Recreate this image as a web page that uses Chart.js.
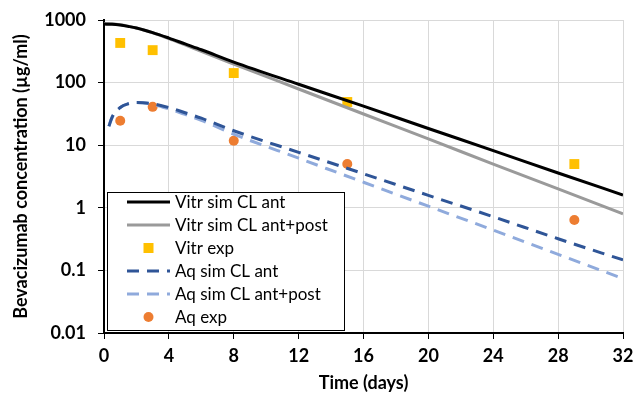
<!DOCTYPE html>
<html>
<head>
<meta charset="utf-8">
<script src="https://cdn.jsdelivr.net/npm/chart.js@4"></script>
<style>
  html, body { margin: 0; padding: 0; background: #fff; }
</style>
</head>
<body>
<canvas id="concChart" width="635" height="396"></canvas>
<script>
// simulated curves (days, ug/ml)
const vitrDays = [0, 0.5, 1, 1.5, 2, 3, 4, 5, 6, 8, 12, 16, 20, 24, 28, 32];
const vitrAnt = [860, 855, 830, 790, 745, 630, 515, 415, 335, 213, 94, 42, 18.5, 8.2, 3.6, 1.6];
const vitrAntPost = [880, 870, 840, 795, 745, 625, 505, 400, 315, 198, 79, 31.5, 12.6, 5.0, 2.0, 0.8];

const aqDays = [0.3, 0.5, 1, 1.5, 2, 3, 4, 5, 6, 8, 12, 16, 20, 24, 28, 32];
const aqAnt = [20, 28, 40, 46, 48, 46, 40, 33, 27, 17, 7.7, 3.5, 1.58, 0.72, 0.32, 0.147];
const aqAntPost = [20, 28, 40, 46, 48, 45, 38, 31, 25, 15, 6.2, 2.56, 1.06, 0.44, 0.18, 0.074];

// experimental points
const expDays = [1, 3, 8, 15, 29];
const vitrExp = [430, 330, 142, 49, 5.0];
const aqExp = [24.5, 41, 11.8, 5.0, 0.64];

const xTicks = [0, 4, 8, 12, 16, 20, 24, 28, 32];
const yTicks = [0.01, 0.1, 1, 10, 100, 1000];

function pts(xs, ys) {
    return xs.map((x, i) => ({ x: x, y: ys[i] }));
}

const boxLegend = {
    id: 'boxLegend',
    afterDatasetsDraw(chart) {
        const ctx = chart.ctx;
        const area = chart.chartArea;
        const left = area.left + 3;
        const bottom = area.bottom - 3;
        const w = 237, h = 138;
        const top = bottom - h;
        ctx.save();
        ctx.fillStyle = '#ffffff';
        ctx.fillRect(left, top, w, h);
        ctx.strokeStyle = '#000000';
        ctx.lineWidth = 1;
        ctx.strokeRect(left + 0.5, top + 0.5, w, h);
        ctx.font = '17px Lato';
        ctx.textBaseline = 'middle';
        chart.data.datasets.forEach((ds, i) => {
            const y = top + 10 + i * 23;
            const x0 = left + 20, x1 = left + 63;
            if (ds.showLine === false) {
                const cx = (x0 + x1) / 2;
                ctx.fillStyle = ds.backgroundColor;
                if (ds.pointStyle === 'rect') {
                    ctx.fillRect(cx - 5, y - 5, 10, 10);
                } else {
                    ctx.beginPath();
                    ctx.arc(cx, y, 5, 0, Math.PI * 2);
                    ctx.fill();
                }
            } else {
                ctx.strokeStyle = ds.borderColor;
                ctx.lineWidth = ds.borderWidth;
                ctx.setLineDash(ds.borderDash || []);
                ctx.beginPath();
                ctx.moveTo(x0, y);
                ctx.lineTo(x1, y);
                ctx.stroke();
                ctx.setLineDash([]);
            }
            ctx.fillStyle = '#000000';
            ctx.fillText(ds.label, left + 68, y + 1);
        });
        ctx.restore();
    }
};

const ctx = document.getElementById('concChart').getContext('2d');
const chart = new Chart(ctx, {
    type: 'line',
    data: {
        datasets: [
            {
                label: 'Vitr sim CL ant',
                data: pts(vitrDays, vitrAnt),
                borderColor: '#000000',
                borderWidth: 3,
                pointRadius: 0,
                cubicInterpolationMode: 'monotone'
            },
            {
                label: 'Vitr sim CL ant+post',
                data: pts(vitrDays, vitrAntPost),
                borderColor: '#9a9a9a',
                borderWidth: 3,
                pointRadius: 0,
                cubicInterpolationMode: 'monotone'
            },
            {
                label: 'Vitr exp',
                data: pts(expDays, vitrExp),
                showLine: false,
                pointStyle: 'rect',
                pointRadius: 7,
                backgroundColor: '#FFC000',
                borderColor: '#FFC000',
                borderWidth: 0
            },
            {
                label: 'Aq sim CL ant',
                data: pts(aqDays, aqAnt),
                borderColor: '#2F5597',
                borderWidth: 3,
                borderDash: [12, 8],
                pointRadius: 0,
                cubicInterpolationMode: 'monotone'
            },
            {
                label: 'Aq sim CL ant+post',
                data: pts(aqDays, aqAntPost),
                borderColor: '#8FAADC',
                borderWidth: 3,
                borderDash: [12, 8],
                pointRadius: 0,
                cubicInterpolationMode: 'monotone'
            },
            {
                label: 'Aq exp',
                data: pts(expDays, aqExp),
                showLine: false,
                pointStyle: 'circle',
                pointRadius: 5,
                backgroundColor: '#ED7D31',
                borderColor: '#ED7D31',
                borderWidth: 0
            }
        ]
    },
    options: {
        responsive: false,
        animation: false,
        layout: { padding: { top: 20, right: 12, left: 0, bottom: 0 } },
        plugins: {
            legend: { display: false },
            tooltip: { enabled: false }
        },
        scales: {
            x: {
                type: 'linear',
                min: 0,
                max: 32,
                afterBuildTicks: (scale) => { scale.ticks = xTicks.map(v => ({ value: v })); },
                afterFit: (scale) => {
                    scale.height = 63;
                    scale.paddingLeft = 0;
                    scale.paddingRight = 0;
                },
                grid: { color: '#d9d9d9', lineWidth: 1, tickColor: '#000000', tickLength: 6 },
                border: { color: '#000000', width: 2 },
                ticks: {
                    padding: 6,
                    color: '#000000',
                    font: { family: 'Lato', size: 18, weight: 'bold' }
                },
                title: {
                    display: true,
                    text: 'Time (days)',
                    color: '#000000',
                    font: { family: 'Lato', size: 18, weight: 'bold' },
                    padding: { top: 0, bottom: 2 }
                }
            },
            y: {
                type: 'logarithmic',
                min: 0.01,
                max: 1000,
                afterBuildTicks: (scale) => { scale.ticks = yTicks.map(v => ({ value: v })); },
                afterFit: (scale) => {
                    scale.width = 104;
                    scale.paddingTop = 0;
                    scale.paddingBottom = 0;
                },
                grid: { color: '#d9d9d9', lineWidth: 1, tickColor: '#000000', tickLength: 6 },
                border: { color: '#000000', width: 2 },
                ticks: {
                    padding: 12,
                    color: '#000000',
                    font: { family: 'Lato', size: 18, weight: 'bold' },
                    callback: (v) => String(v)
                },
                title: {
                    display: true,
                    text: 'Bevacizumab concentration (µg/ml)',
                    color: '#000000',
                    font: { family: 'Lato', size: 18, weight: 'bold' },
                    padding: { top: 10, bottom: 0 }
                }
            }
        }
    },
    plugins: [boxLegend]
});
</script>
</body>
</html>
